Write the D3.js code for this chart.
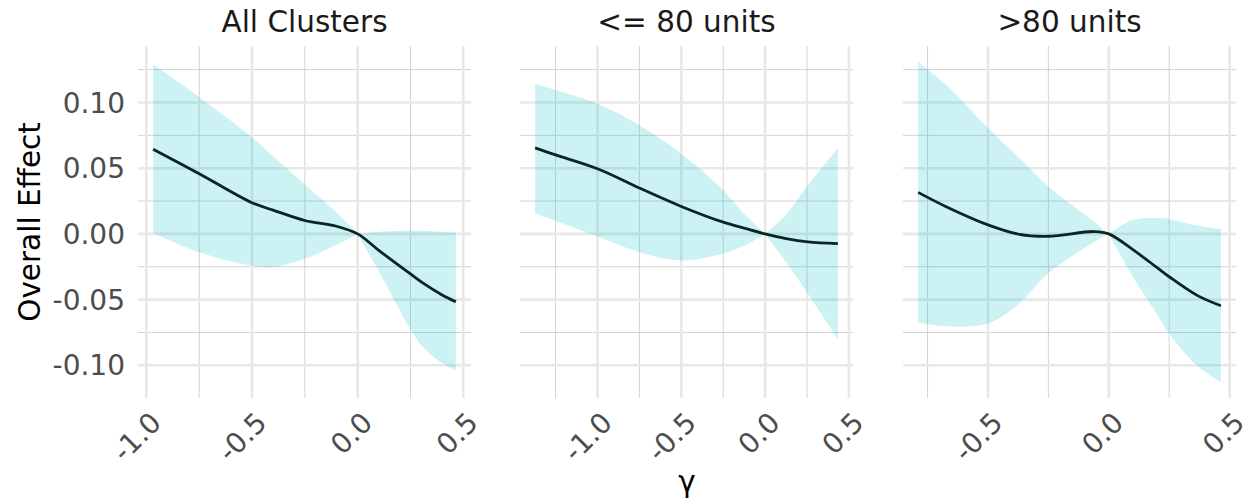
<!DOCTYPE html>
<html>
<head>
<meta charset="utf-8">
<script src="https://cdn.jsdelivr.net/npm/d3@7"></script>
<style>
  body { margin: 0; background: #fff; }
  svg { display: block; font-family: "DejaVu Sans", sans-serif; }
</style>
</head>
<body>
<svg id="chart" width="1246" height="501"></svg>
<script>
// panel titles
const panelTitles = ["All Clusters", "<= 80 units", ">80 units"];

// All Clusters
const allX   = [-0.968, -0.75, -0.5, -0.4, -0.25, -0.1, 0, 0.1, 0.25, 0.31, 0.4, 0.465];
const allFit = [0.0644, 0.0458, 0.0237, 0.0181, 0.0102, 0.0058, 0, -0.0125, -0.0305, -0.0375, -0.0465, -0.0517];
const allLo  = [0.0005, -0.014, -0.0242, -0.0252, -0.019, -0.0083, 0, -0.0285, -0.0725, -0.0862, -0.0985, -0.104];
const allHi  = [0.129, 0.104, 0.0735, 0.059, 0.0375, 0.016, 0, 0.0015, 0.0025, 0.0023, 0.0015, 0.001];

// <= 80 units
const smallX   = [-1.372, -1.25, -1.0, -0.75, -0.5, -0.25, -0.12, 0, 0.125, 0.255, 0.434];
const smallFit = [0.0654, 0.0601, 0.0496, 0.0349, 0.0209, 0.0089, 0.0042, 0, -0.0036, -0.0061, -0.0074];
const smallLo  = [0.0158, 0.010, -0.002, -0.014, -0.0202, -0.015, -0.0087, 0, -0.0214, -0.0455, -0.080];
const smallHi  = [0.1145, 0.1094, 0.099, 0.0827, 0.061, 0.0333, 0.0145, 0, 0.0145, 0.037, 0.0654];

// >80 units
const largeX   = [-0.789, -0.675, -0.5, -0.37, -0.25, -0.06, 0, 0.1, 0.2, 0.25, 0.364, 0.464];
const largeFit = [0.0316, 0.0209, 0.0069, -0.0003, -0.0018, 0.0018, 0, -0.012, -0.0257, -0.0326, -0.0466, -0.0547];
const largeLo  = [-0.0677, -0.0702, -0.0682, -0.0529, -0.030, -0.0061, 0, -0.0326, -0.0613, -0.0758, -0.1, -0.1127];
const largeHi  = [0.1308, 0.1137, 0.0807, 0.0575, 0.0361, 0.0092, 0, 0.0107, 0.012, 0.0112, 0.0065, 0.0036];

// axis breaks
const yTicks = [-0.10, -0.05, 0.00, 0.05, 0.10];
const yMinor = [-0.125, -0.075, -0.025, 0.025, 0.075, 0.125];
const xTicks = [-1.5, -1.0, -0.5, 0.0, 0.5];
const xMinor = [-1.25, -0.75, -0.25, 0.25, 0.75];

const panels = [
  { title: panelTitles[0], x: allX,   fit: allFit,   lo: allLo,   hi: allHi },
  { title: panelTitles[1], x: smallX, fit: smallFit, lo: smallLo, hi: smallHi },
  { title: panelTitles[2], x: largeX, fit: largeFit, lo: largeLo, hi: largeHi }
];

const svg = d3.select("#chart");
const panelLeft = [138, 520, 903], panelW = 333;
const panelTop = 46, panelBottom = 398;

const expand = (ext) => { const d = (ext[1] - ext[0]) * 0.05; return [ext[0] - d, ext[1] + d]; };
const fmt = f => v => d3.format(f)(v).replace("\u2212", "-");
const curve = d3.curveCatmullRom.alpha(0.5);

const yExt = expand([
  d3.min(panels, p => d3.min(p.lo)),
  d3.max(panels, p => d3.max(p.hi))
]);
const y = d3.scaleLinear().domain(yExt).range([panelBottom, panelTop]);

const inY = v => v >= yExt[0] && v <= yExt[1];

panels.forEach((p, i) => {
  const x0 = panelLeft[i];
  const x = d3.scaleLinear().domain(expand(d3.extent(p.x))).range([x0, x0 + panelW]);
  const dom = x.domain();
  const inX = v => v >= dom[0] && v <= dom[1];
  const g = svg.append("g");

  // minor grid
  g.selectAll(".vmin").data(xMinor.filter(inX)).join("line")
    .attr("x1", d => x(d)).attr("x2", d => x(d)).attr("y1", panelTop).attr("y2", panelBottom)
    .attr("stroke", "#d3d3d3").attr("stroke-width", 1);
  g.selectAll(".hmin").data(yMinor.filter(inY)).join("line")
    .attr("x1", x0).attr("x2", x0 + panelW).attr("y1", d => y(d)).attr("y2", d => y(d))
    .attr("stroke", "#d3d3d3").attr("stroke-width", 1);
  // major grid
  g.selectAll(".vmaj").data(xTicks.filter(inX)).join("line")
    .attr("x1", d => x(d)).attr("x2", d => x(d)).attr("y1", panelTop).attr("y2", panelBottom)
    .attr("stroke", "#e8e8e8").attr("stroke-width", 2.6);
  g.selectAll(".hmaj").data(yTicks.filter(inY)).join("line")
    .attr("x1", x0).attr("x2", x0 + panelW).attr("y1", d => y(d)).attr("y2", d => y(d))
    .attr("stroke", "#e8e8e8").attr("stroke-width", 2.6);

  // ribbon, split at the pinch so the kink stays sharp
  const rows = p.x.map((v, j) => ({ x: v, fit: p.fit[j], lo: p.lo[j], hi: p.hi[j] }));
  const area = d3.area().x(d => x(d.x)).y0(d => y(d.lo)).y1(d => y(d.hi)).curve(curve);
  [rows.filter(d => d.x <= 0), rows.filter(d => d.x >= 0)].forEach(part => {
    g.append("path").attr("d", area(part))
      .attr("fill", "#00BFC4").attr("fill-opacity", 0.2);
  });

  g.append("path")
    .attr("d", d3.line().x(d => x(d.x)).y(d => y(d.fit)).curve(curve)(rows))
    .attr("fill", "none").attr("stroke", "#0b2424").attr("stroke-width", 2.8)
    .attr("stroke-linecap", "butt");

  // x tick labels
  g.selectAll(".xt").data(xTicks.filter(inX)).join("text")
    .attr("transform", d => `translate(${x(d) + 2},${panelBottom + 12}) rotate(-45)`)
    .attr("text-anchor", "end").attr("dy", "0.73em")
    .attr("font-size", 28).attr("fill", "#4d4d4d")
    .text(fmt(".1f"));

  // strip title
  g.append("text")
    .attr("x", x0 + panelW / 2).attr("y", 32)
    .attr("text-anchor", "middle").attr("font-size", 29.5).attr("fill", "#1a1a1a")
    .text(p.title);
});

// y tick labels
svg.selectAll(".yt").data(yTicks).join("text")
  .attr("x", 125).attr("y", d => y(d)).attr("dy", "0.36em")
  .attr("text-anchor", "end").attr("font-size", 28).attr("fill", "#4d4d4d")
  .text(fmt(".2f"));

// axis titles
svg.append("text")
  .attr("transform", `translate(40,${(panelTop + panelBottom) / 2}) rotate(-90)`)
  .attr("text-anchor", "middle").attr("font-size", 29.5).attr("fill", "#000")
  .text("Overall Effect");

svg.append("text")
  .attr("x", (panelLeft[0] + panelLeft[2] + panelW) / 2).attr("y", 492)
  .attr("text-anchor", "middle").attr("font-size", 29.5).attr("fill", "#000")
  .text("γ");
</script>
</body>
</html>
